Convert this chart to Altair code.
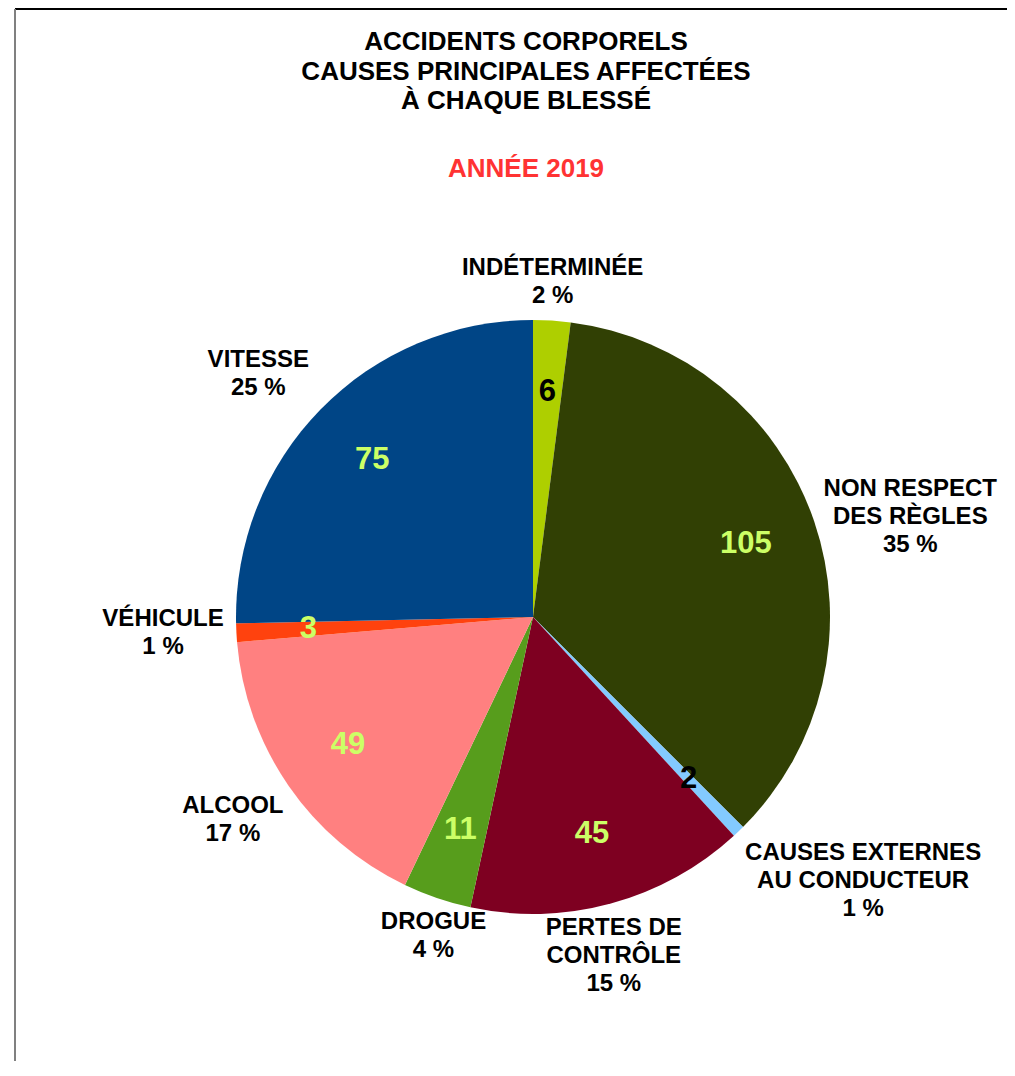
import altair as alt
import pandas as pd

# ---- données ----
causes = ["INDÉTERMINÉE", "NON RESPECT DES RÈGLES", "CAUSES EXTERNES AU CONDUCTEUR",
          "PERTES DE CONTRÔLE", "DROGUE", "ALCOOL", "VÉHICULE", "VITESSE"]
etiquettes = [["INDÉTERMINÉE"], ["NON RESPECT", "DES RÈGLES"], ["CAUSES EXTERNES", "AU CONDUCTEUR"],
              ["PERTES DE", "CONTRÔLE"], ["DROGUE"], ["ALCOOL"], ["VÉHICULE"], ["VITESSE"]]
valeurs = [6, 105, 2, 45, 11, 49, 3, 75]
pourcentages = [2, 35, 1, 15, 4, 17, 1, 25]
couleurs = ["#AECF00", "#314004", "#83CAFF", "#7E0021", "#579D1C", "#FF8080", "#FF420E", "#004586"]
causes_claires = ["INDÉTERMINÉE", "CAUSES EXTERNES AU CONDUCTEUR"]

lignes = [e + [f"{p} %"] for e, p in zip(etiquettes, pourcentages)]
df = pd.DataFrame({
    "cause": causes,
    "valeur": valeurs,
    "texte": lignes,
    "nchar": [max(len(s) for s in l) for l in lignes],
    "nlignes": [len(l) for l in lignes],
})

W, H = 990, 1052
CX, CY, R = 518, 608, 297
LH = 28  # interligne des étiquettes

base = alt.Chart(df).transform_window(
    rang="row_number()"
).transform_window(
    cum="sum(valeur)", sort=[alt.SortField("rang")], frame=[None, 0]
).transform_joinaggregate(
    total="sum(valeur)"
).transform_calculate(
    mid="(datum.cum - datum.valeur / 2) / datum.total * 2 * PI"
).transform_calculate(
    s="sin(datum.mid)", c="cos(datum.mid)",
    hw="datum.nchar * 7.8", hh=f"datum.nlignes * {LH} / 2",
).transform_calculate(
    # point d'ancrage juste à l'extérieur du disque, la boîte de texte posée contre lui
    lx=f"{CX} + {R + 11} * datum.s + (abs(datum.s) > 0.383 ? (datum.s > 0 ? 1 : -1) * datum.hw : 0)",
    ly=f"{CY} - {R + 11} * datum.c + (abs(datum.c) > 0.383 ? (datum.c > 0 ? -1 : 1) * datum.hh : 0)"
       f" - (datum.nlignes - 1) * {LH} / 2",
)

theta = alt.Theta("valeur:Q", stack=True)
order = alt.Order("rang:Q")

arcs = base.mark_arc(outerRadius=R, strokeWidth=0).encode(
    theta=theta,
    order=order,
    color=alt.Color("cause:N", scale=alt.Scale(domain=causes, range=couleurs), legend=None),
    x=alt.value(CX), y=alt.value(CY),
)

valeurs_txt = base.mark_text(
    radius=225, font="Liberation Sans", fontWeight="bold", fontSize=31,
    align="center", baseline="middle",
).encode(
    theta=theta,
    order=order,
    text=alt.Text("valeur:Q"),
    color=alt.condition(
        alt.FieldOneOfPredicate(field="cause", oneOf=causes_claires),
        alt.value("#000000"), alt.value("#CCFF66")),
    x=alt.value(CX), y=alt.value(CY),
)

etiq = base.mark_text(
    font="Liberation Sans", fontWeight="bold", fontSize=24, lineHeight=LH,
    align="center", baseline="middle", color="#000000",
).encode(
    x=alt.X("lx:Q", scale=None, axis=None),
    y=alt.Y("ly:Q", scale=None, axis=None),
    text=alt.Text("texte:N"),
)

cadre_haut = alt.Chart(df).mark_rule(color="#000000", strokeWidth=2).encode(
    x=alt.value(0), x2=alt.value(W + 2), y=alt.value(0))
cadre_gauche = alt.Chart(df).mark_rule(color="#808080", strokeWidth=2).encode(
    x=alt.value(0), y=alt.value(0), y2=alt.value(H))

chart = alt.layer(cadre_haut, cadre_gauche, arcs, valeurs_txt, etiq).properties(
    width=W, height=H,
    autosize=alt.AutoSizeParams(type="none"),
    padding={"left": 7, "top": 1, "right": 2, "bottom": 0},
    title=alt.TitleParams(
        text=["ACCIDENTS CORPORELS", "CAUSES PRINCIPALES AFFECTÉES", "À CHAQUE BLESSÉ"],
        subtitle="ANNÉE 2019",
        font="Liberation Sans", fontSize=26, fontWeight="bold", color="#000000",
        lineHeight=29.5,
        subtitleFont="Liberation Sans", subtitleFontSize=26, subtitleFontWeight="bold",
        subtitleColor="#FF3333", subtitlePadding=42,
        anchor="middle", dx=16, offset=-174,
    ),
).configure_view(stroke=None)

chart.save("out.html", embed_options={"renderer": "svg", "actions": False})
